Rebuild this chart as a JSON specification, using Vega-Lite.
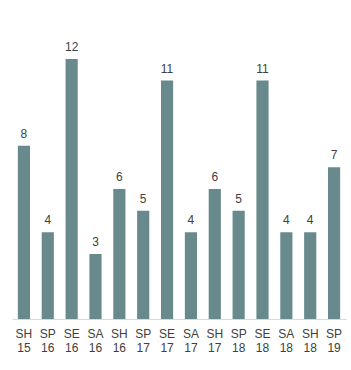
{
  "$schema": "https://vega.github.io/schema/vega-lite/v6.json",
  "autosize": "none",
  "width": 334,
  "height": 319,
  "padding": {"left": 12, "top": 0, "right": 5, "bottom": 51},
  "background": "white",
  "config": {"view": {"stroke": null}, "font": "Liberation Sans"},
  "data": {"values": [
    {"season": "SH 15", "value": 8},
    {"season": "SP 16", "value": 4},
    {"season": "SE 16", "value": 12},
    {"season": "SA 16", "value": 3},
    {"season": "SH 16", "value": 6},
    {"season": "SP 17", "value": 5},
    {"season": "SE 17", "value": 11},
    {"season": "SA 17", "value": 4},
    {"season": "SH 17", "value": 6},
    {"season": "SP 18", "value": 5},
    {"season": "SE 18", "value": 11},
    {"season": "SA 18", "value": 4},
    {"season": "SH 18", "value": 4},
    {"season": "SP 19", "value": 7}
  ]},
  "encoding": {
    "x": {"field": "season", "type": "nominal", "sort": null,
      "scale": {"paddingInner": 0.49, "paddingOuter": 0.245},
      "axis": {"title": null, "labelAngle": 0, "ticks": false, "domainColor": "#d9d9d9",
        "labelExpr": "split(datum.label, ' ')", "labelFontSize": 12, "labelLineHeight": 14,
        "labelColor": "#404040", "labelPadding": 9, "labelFont": "Liberation Sans"}},
    "y": {"field": "value", "type": "quantitative", "scale": {"domain": [0, 14.72], "nice": false}, "axis": null}
  },
  "layer": [
    {"mark": {"type": "bar", "color": "#688a8c"}},
    {"mark": {"type": "text", "baseline": "alphabetic", "dy": -8, "fontSize": 12, "color": "#404040", "font": "Liberation Sans"},
     "encoding": {"text": {"field": "value", "type": "quantitative"}}}
  ]
}
